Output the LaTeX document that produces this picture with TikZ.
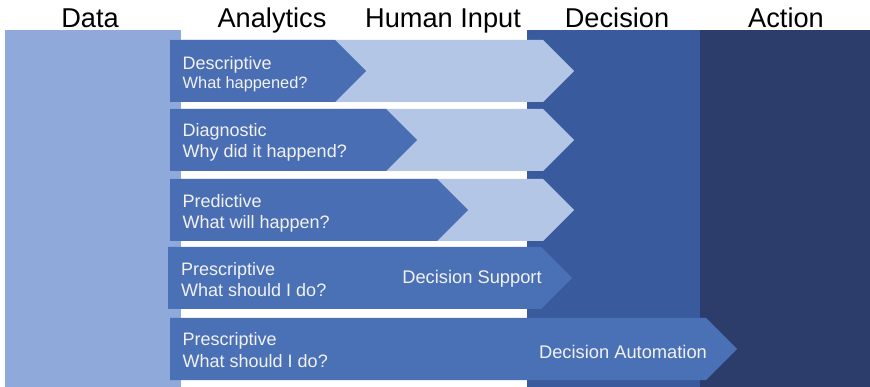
\documentclass[tikz,border=0pt]{standalone}
\usepackage{fontspec}
\setmainfont{Liberation Sans}

\definecolor{datablue}{HTML}{8FAADA}
\definecolor{humanblue}{HTML}{B4C6E6}
\definecolor{analyticblue}{HTML}{4A6EB4}
\definecolor{supportblue}{HTML}{4A70B6}
\definecolor{decisionblue}{HTML}{3A5A9E}
\definecolor{actionblue}{HTML}{2C3D6C}
\definecolor{labelwhite}{HTML}{F2F2F2}

\tikzstyle{header} = [font=\fontsize{27.2}{30}\selectfont, anchor=base, inner sep=0pt]
\tikzstyle{label} = [font=\fontsize{18}{21.6}\selectfont, text=labelwhite, align=left, anchor=west, inner sep=0pt]
\tikzstyle{outcome} = [font=\fontsize{18.3}{21.6}\selectfont, text=labelwhite, anchor=base, inner sep=0pt]
\tikzstyle{column} = [anchor=north west, inner sep=0pt, minimum height=357pt]

% chevron from its left edge and top edge up to where the point starts
\newcommand{\chevron}[4]{\fill[#4] (#1,#2) -- (#3,#2) -- ++(31,31) -- ++(-31,31) -- (#1,#2+62) -- cycle;}

\begin{document}
\begin{tikzpicture}[x=1pt, y={(0pt,-1pt)}]
    \useasboundingbox (0,0) rectangle (870,387);

    % Columns
    \node (data) [column, fill=datablue, minimum width=176pt] at (5,30) {};
    \node (decision) [column, fill=decisionblue, minimum width=173pt] at (527,30) {};
    \node (action) [column, fill=actionblue, minimum width=170pt] at (700,30) {};

    % Headers
    \node (data_label) [header] at (90,28) {Data};
    \node (analytics_label) [header] at (272,28) {Analytics};
    \node (human_label) [header] at (443,28) {Human Input};
    \node (decision_label) [header] at (617,28) {Decision};
    \node (action_label) [header] at (786,28) {Action};

    % Human input, behind the analytics
    \chevron{170}{40}{543}{humanblue}
    \chevron{170}{109}{543}{humanblue}
    \chevron{170}{179}{543}{humanblue}

    % Analytics
    \chevron{170}{40}{335}{analyticblue}
    \chevron{170}{109}{386}{analyticblue}
    \chevron{170}{179}{437}{analyticblue}
    \chevron{168}{247}{541}{supportblue}
    \chevron{170}{318}{706}{supportblue}

    % question in the first one is set a little smaller
    \node (descriptive) [label, font=\fontsize{18}{19.5}\selectfont] at (182.5,74) {Descriptive\\{\fontsize{16.4}{19.5}\selectfont What happened?}};
    \node (diagnostic) [label] at (182.5,142.4) {Diagnostic\\Why did it happend?};
    \node (predictive) [label] at (182.5,213.2) {Predictive\\What will happen?};
    \node (prescriptive1) [label] at (181,279.5) {Prescriptive\\What should I do?};
    \node (prescriptive2) [label] at (182.5,350.2) {Prescriptive\\What should I do?};

    % Outcomes
    \node (support) [outcome] at (472,283.3) {Decision Support};
    \node (automation) [outcome] at (623,358.3) {Decision Automation};

\end{tikzpicture}
\end{document}
